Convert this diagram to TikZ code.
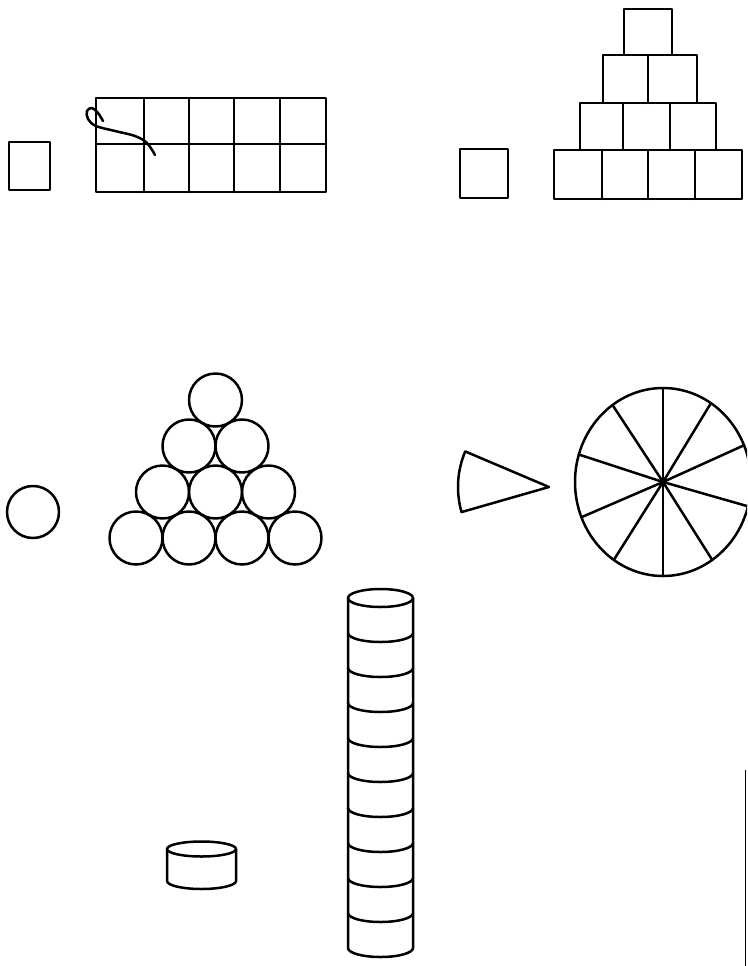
\documentclass[tikz,border=0pt]{standalone}
\begin{document}
\begin{tikzpicture}[x=1pt,y=-1pt,
  ink/.style={line width=2.5pt,line join=round,line cap=round},
  edgeline/.style={line width=1.5pt}]
\useasboundingbox (0,0) rectangle (747,966);
\clip (0,0) rectangle (747,966);
% single square left
\draw[ink] (9,142) rectangle (50,190);
% 2x5 grid
\draw[ink] (96,98) rectangle (326,192);
\draw[ink] (96,144) -- (326,144);
\foreach \x in {144,189,234,280} \draw[ink] (\x,98) -- (\x,192);
% scribble on grid
\draw[ink] plot[smooth,tension=0.6] coordinates {(103,121) (98,113) (92,108) (87,111) (88,119) (96,126) (115,131) (135,136) (147,143) (155,155)};
% single square right
\draw[ink] (460,149) rectangle (508,198);
% pyramid of squares
\draw[ink] (624,9) rectangle (672,55);
\draw[ink] (603,55) rectangle (697,103);
\draw[ink] (648,55) -- (648,103);
\draw[ink] (580,103) rectangle (716,150);
\foreach \x in {623,670} \draw[ink] (\x,103) -- (\x,150);
\draw[ink] (554,150) rectangle (742,199);
\foreach \x in {602,648,695} \draw[ink] (\x,150) -- (\x,199);
% single circle
\draw[ink] (33,512) circle[radius=26];
% pyramid of circles
\foreach \i in {0,1,2,3} \draw[ink] (136+53*\i,538) circle[radius=26.5];
\foreach \i in {0,1,2} \draw[ink] (162.5+53*\i,492) circle[radius=26.5];
\foreach \i in {0,1} \draw[ink] (189+53*\i,446) circle[radius=26.5];
\draw[ink] (215.5,400) circle[radius=26.5];
% single sector
\coordinate (apex) at (549,487);
\draw[ink] (apex) -- ++(164:91) arc[start angle=164,end angle=203,radius=91] -- cycle;
% pie with ten sectors
\coordinate (pc) at (663,482);
\draw[ink] (pc) ellipse[x radius=88,y radius=94];
\foreach \a in {270,235,197,158,124,90,56,15,337,303}
  \draw[ink] (pc) -- ++(\a:88 and 94);
\fill (pc) circle[radius=3.5];
% tall stack of ten discs
\draw[ink] (380.5,598) ellipse[x radius=32.5,y radius=9];
\draw[ink] (348,598) -- (348,948) arc[start angle=180,end angle=0,x radius=32.5,y radius=9] -- (413,598);
\foreach \k in {1,...,9}
  \draw[ink] (348,598+35*\k) arc[start angle=180,end angle=0,x radius=32.5,y radius=9];
% single disc
\draw[ink] (201.5,849) ellipse[x radius=34.5,y radius=7.5];
\draw[ink] (167,849) -- (167,881) arc[start angle=180,end angle=0,x radius=34.5,y radius=8] -- (236,849);
% scan edge
\draw[edgeline] (745.5,770) -- (745.5,966);
\end{tikzpicture}
\end{document}
